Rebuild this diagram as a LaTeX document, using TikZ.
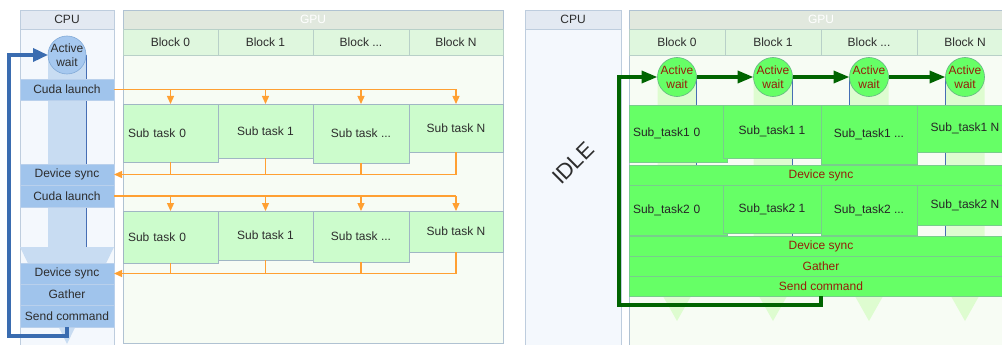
\documentclass[tikz,border=0pt]{standalone}
\usepackage{fontspec}
\setmainfont{Liberation Sans}
\usetikzlibrary{arrows.meta}

\definecolor{txt}{RGB}{45,45,45}
\definecolor{cpuhead}{RGB}{227,233,242}
\definecolor{cpubody}{RGB}{244,248,253}
\definecolor{cpuedge}{RGB}{190,205,222}
\definecolor{gpuhead}{RGB}{225,232,222}
\definecolor{gpubody}{RGB}{247,252,244}
\definecolor{gpuedge}{RGB}{176,194,210}
\definecolor{blockfill}{RGB}{223,247,222}
\definecolor{blockedge}{RGB}{184,208,200}
\definecolor{cpublue}{RGB}{160,196,236}
\definecolor{cpubluedge}{RGB}{185,208,236}
\definecolor{cpubar}{RGB}{200,220,242}
\definecolor{barline}{RGB}{70,110,180}
\definecolor{cpucirc}{RGB}{166,200,239}
\definecolor{cpucircedge}{RGB}{130,170,215}
\definecolor{subfill}{RGB}{204,252,204}
\definecolor{subedge}{RGB}{160,182,196}
\definecolor{orange1}{RGB}{255,160,50}
\definecolor{loopblue}{RGB}{58,108,176}
\definecolor{gfill}{RGB}{102,255,102}
\definecolor{gedge}{RGB}{120,205,140}
\definecolor{gbar}{RGB}{222,252,208}
\definecolor{gcircedge}{RGB}{100,180,130}
\definecolor{loopgreen}{RGB}{0,100,0}
\definecolor{darkred}{RGB}{150,30,10}

\begin{document}
\begin{tikzpicture}[x=1pt,y=-1pt,
  every node/.style={inner sep=0pt, outer sep=0pt, font=\fontsize{12}{14.5}\selectfont, text=txt},
  box/.style={anchor=north west, rectangle},
  cpuhd/.style={box, fill=cpuhead, draw=cpuedge, line width=0.6pt},
  cpubg/.style={box, fill=cpubody, draw=cpuedge, line width=0.6pt},
  gpuhd/.style={box, fill=gpuhead, draw=gpuedge, line width=0.6pt, text=white},
  gpubg/.style={box, fill=gpubody, draw=gpuedge, line width=0.8pt},
  blk/.style={box, fill=blockfill, draw=blockedge, line width=0.6pt, minimum height=26},
  cpubox/.style={box, fill=cpublue, draw=cpubluedge, line width=0.6pt, minimum width=94},
  sub/.style={box, fill=subfill, draw=subedge, line width=0.6pt},
  subleft/.style={sub, text width=85, inner xsep=5, align=left},
  gbox/.style={box, fill=gfill, draw=gedge, line width=0.6pt, text=black!85},
  gboxleft/.style={gbox, text width=90, inner xsep=4, align=left},
  gband/.style={gbox, minimum width=384, minimum height=20, text=darkred},
  orng/.style={draw=orange1, line width=1.3pt},
  otip/.style={orng, -{Triangle[length=8pt,width=7pt]}},
  bloop/.style={draw=loopblue, line width=3.5pt, -{Triangle[length=15pt,width=13pt]}},
  gloop/.style={draw=loopgreen, line width=3.5pt, -{Triangle[length=16pt,width=12pt]}},
  gcirc/.style={circle, fill=gfill, draw=gcircedge, line width=0.6pt, minimum size=39},
  waittext/.style={align=center, text=darkred},
]
\useasboundingbox (0,0) rectangle (1002,345);
\fill[white] (0,0) rectangle (1002,345);

% ===================== left: launch / sync per stage =====================
\node[cpubg, minimum width=94, minimum height=337] (cpuL) at (20,10) {};
\node[cpuhd, minimum width=94, minimum height=19] (cpuLh) at (20,10) {CPU};
\node[gpubg, minimum width=380, minimum height=333] (gpuL) at (123,10) {};
\node[gpuhd, minimum width=380, minimum height=19] (gpuLh) at (123,10) {GPU};
\node[blk, minimum width=95] (bL0) at (123,29) {Block 0};
\node[blk, minimum width=95] (bL1) at (218,29) {Block 1};
\node[blk, minimum width=96] (bL2) at (313,29) {Block ...};
\node[blk, minimum width=94] (bL3) at (409,29) {Block N};

% CPU time arrow
\fill[cpubar] (48,55) -- (86,55) -- (86,247) -- (114,247) -- (67,344) -- (20,247) -- (48,247) -- cycle;
\draw[barline, line width=0.8pt] (86,55) -- (86,247);
\node[circle, fill=cpucirc, draw=cpucircedge, line width=0.6pt, minimum size=38] (awL) at (67,55) {};
\node[align=center] (awLt) at (awL) {Active\\wait};

\node[cpubox, minimum height=21] (clA) at (20,79) {Cuda launch};
\node[cpubox, minimum height=21] (dsA) at (20,164) {Device sync};
\node[cpubox, minimum height=22] (clB) at (20,185) {Cuda launch};
\node[cpubox, minimum height=21] (dsB) at (20,263) {Device sync};
\node[cpubox, minimum height=21] (gaL) at (20,284) {Gather};
\node[cpubox, minimum height=22] (scL) at (20,305) {Send command};

% first kernel
\node[subleft, minimum height=58] (tA0) at (123,104) {Sub task 0};
\node[sub, minimum width=95, minimum height=54] (tA1) at (218,104) {Sub task 1};
\node[sub, minimum width=96, minimum height=59] (tA2) at (313,104) {Sub task ...};
\node[sub, minimum width=94, minimum height=48] (tA3) at (409,104) {Sub task N};
% second kernel
\node[subleft, minimum height=52] (tB0) at (123,211) {Sub task 0};
\node[sub, minimum width=95, minimum height=49] (tB1) at (218,211) {Sub task 1};
\node[sub, minimum width=96, minimum height=51] (tB2) at (313,211) {Sub task ...};
\node[sub, minimum width=94, minimum height=41] (tB3) at (409,211) {Sub task N};

% launches and synchronisations
\draw[orng] (clA.east) -- (clA.east -| tA3.north);
\draw[orng] (clB.east) -- (clB.east -| tB3.north);
\foreach \t in {tA0,tA1,tA2,tA3} {
  \draw[otip] (clA.east -| \t.north) -- (\t.north);
  \draw[orng] (\t.south) -- (\t.south |- dsA.east);
}
\foreach \t in {tB0,tB1,tB2,tB3} {
  \draw[otip] (clB.east -| \t.north) -- (\t.north);
  \draw[orng] (\t.south) -- (\t.south |- dsB.east);
}
\draw[otip] (dsA.east -| tA3.south) -- (dsA.east);
\draw[otip] (dsB.east -| tB3.south) -- (dsB.east);

% CPU loop
\coordinate (lpL) at (9,336);
\draw[bloop] (scL.south) |- (lpL) |- (awL.west);

% ===================== right: persistent kernel =====================
\node[cpubg, minimum width=96, minimum height=337] (cpuR) at (525,10) {};
\node[cpuhd, minimum width=96, minimum height=19] (cpuRh) at (525,10) {CPU};
\node[gpubg, minimum width=384, minimum height=337] (gpuR) at (629,10) {};
\node[gpuhd, minimum width=384, minimum height=19] (gpuRh) at (629,10) {GPU};
\node[blk, minimum width=96] (bR0) at (629,29) {Block 0};
\node[blk, minimum width=96] (bR1) at (725,29) {Block 1};
\node[blk, minimum width=96] (bR2) at (821,29) {Block ...};
\node[blk, minimum width=96] (bR3) at (917,29) {Block N};

\node[rotate=45, font=\fontsize{22}{24}\selectfont] (idle) at (573,163) {IDLE};

% per-block time arrows
\foreach \cx/\sx in {677/19.5,773/19.5,869/-19.5,965/-19.5} {
  \fill[gbar] (\cx-19.5,77) -- (\cx+19.5,77) -- (\cx+19.5,275) -- (\cx+26,275)
      -- (\cx,321) -- (\cx-26,275) -- (\cx-19.5,275) -- cycle;
  \draw[barline, line width=0.6pt] (\cx+\sx,77) -- (\cx+\sx,275);
}

\node[gcirc] (aw0) at (677,77) {};
\node[gcirc] (aw1) at (773,77) {};
\node[gcirc] (aw2) at (869,77) {};
\node[gcirc] (aw3) at (965,77) {};
\node[waittext] (aw0t) at (aw0) {Active\\wait};
\node[waittext] (aw1t) at (aw1) {Active\\wait};
\node[waittext] (aw2t) at (aw2) {Active\\wait};
\node[waittext] (aw3t) at (aw3) {Active\\wait};

\node[gboxleft, minimum height=57] (sA0) at (629,105) {Sub\_task1 0};
\node[gbox, minimum width=98, minimum height=53] (sA1) at (723,105) {Sub\_task1 1};
\node[gbox, minimum width=96, minimum height=59] (sA2) at (821,105) {Sub\_task1 ...};
\node[gbox, minimum width=96, minimum height=47] (sA3) at (917,105) {Sub\_task1 N};
\node[gband] (dsR1) at (629,165) {Device sync};
\node[gboxleft, minimum height=50] (sB0) at (629,185) {Sub\_task2 0};
\node[gbox, minimum width=98, minimum height=48] (sB1) at (723,185) {Sub\_task2 1};
\node[gbox, minimum width=96, minimum height=50] (sB2) at (821,185) {Sub\_task2 ...};
\node[gbox, minimum width=96, minimum height=40] (sB3) at (917,185) {Sub\_task2 N};
\node[gband] (dsR2) at (629,236) {Device sync};
\node[gband] (gaR) at (629,256) {Gather};
\node[gband] (scR) at (629,276) {Send command};

% polling loop
\draw[gloop] (aw0.east) -- (aw1.west);
\draw[gloop] (aw1.east) -- (aw2.west);
\draw[gloop] (aw2.east) -- (aw3.west);
\coordinate (lpR) at (619,305);
\draw[gloop] (scR.south) |- (lpR) |- (aw0.west);
\end{tikzpicture}
\end{document}
